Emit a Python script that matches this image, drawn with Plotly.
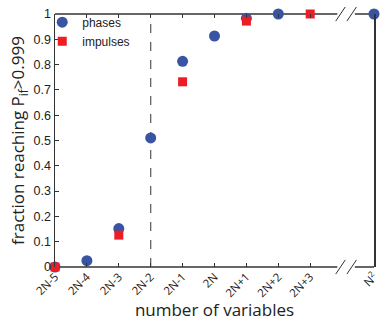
import plotly.graph_objects as go

tick_labels = ["2N-5", "2N-4", "2N-3", "2N-2", "2N-1", "2N", "2N+1", "2N+2", "2N+3", "N<sup>2</sup>"]
tick_pos = [0, 1, 2, 3, 4, 5, 6, 7, 8, 10]

phases_x = [0, 1, 2, 3, 4, 5, 6, 7, 10]
phases_y = [0.0, 0.025, 0.152, 0.51, 0.813, 0.913, 0.983, 1.0, 1.0]

impulses_x = [0, 2, 4, 6, 8]
impulses_y = [0.0, 0.126, 0.732, 0.972, 1.0]

blue = "#3a54a4"
red = "#ee1d25"
axcol = "#333333"

fig = go.Figure()
fig.add_trace(go.Scatter(x=phases_x, y=phases_y, mode="markers", name="phases",
                         marker=dict(symbol="circle", size=11, color=blue), cliponaxis=False))
fig.add_trace(go.Scatter(x=impulses_x, y=impulses_y, mode="markers", name="impulses",
                         marker=dict(symbol="square", size=9, color=red), cliponaxis=False))

shapes = []
# dashed threshold line
shapes.append(dict(type="line", xref="x", yref="y", x0=3, x1=3, y0=0, y1=1,
                   line=dict(color="#555555", width=1.2, dash="dash"), layer="below"))
# broken top/bottom axis lines
for yy in (0, 1):
    shapes.append(dict(type="line", xref="x", yref="paper", x0=0, x1=8.85, y0=yy, y1=yy,
                       line=dict(color=axcol, width=1.5), layer="below"))
    shapes.append(dict(type="line", xref="x", yref="paper", x0=9.4, x1=10, y0=yy, y1=yy,
                       line=dict(color=axcol, width=1.5), layer="below"))
    for xc in (8.95, 9.3):
        shapes.append(dict(type="line", xref="x", yref="paper", x0=xc - 0.15, x1=xc + 0.15,
                           y0=yy - 0.028, y1=yy + 0.028, line=dict(color=axcol, width=1)))

fig.update_layout(
    width=384, height=321,
    margin=dict(l=55, r=4, t=14, b=54),
    paper_bgcolor="white", plot_bgcolor="white",
    font=dict(family="Liberation Sans, Arial, sans-serif", color="#222222"),
    shapes=shapes,
    hovermode=False,
    showlegend=True,
    legend=dict(x=-0.04, y=1.025, xanchor="left", yanchor="top", bgcolor="rgba(0,0,0,0)",
                font=dict(size=12), itemwidth=30, tracegroupgap=0),
    xaxis=dict(range=[0, 10], tickmode="array", tickvals=tick_pos, ticktext=tick_labels,
               tickangle=-45, tickfont=dict(size=11.5, family="Open Sans"), ticks="inside", ticklen=4,
               ticklabeloverflow="allow",
               tickcolor=axcol, showline=False, mirror="ticks", showgrid=False, zeroline=False,
               title=dict(text="number of variables", font=dict(size=17, family="Open Sans"), standoff=2)),
    yaxis=dict(range=[0, 1], tickmode="array", tickvals=[i / 10 for i in range(11)],
               ticktext=["0", "0.1", "0.2", "0.3", "0.4", "0.5", "0.6", "0.7", "0.8", "0.9", "1"],
               tickfont=dict(size=12.5), ticks="inside", ticklen=4, tickcolor=axcol,
               showline=True, linecolor=axcol, linewidth=1.5, mirror=True,
               showgrid=False, zeroline=False,
               title=dict(text="fraction reaching P<sub>if</sub>>0.999", font=dict(size=17, family="Open Sans"), standoff=4)),
)

fig.write_html("out.html", config={"displayModeBar": False, "staticPlot": True},
               post_script="document.body.style.margin='0';document.body.style.overflow='hidden';")
